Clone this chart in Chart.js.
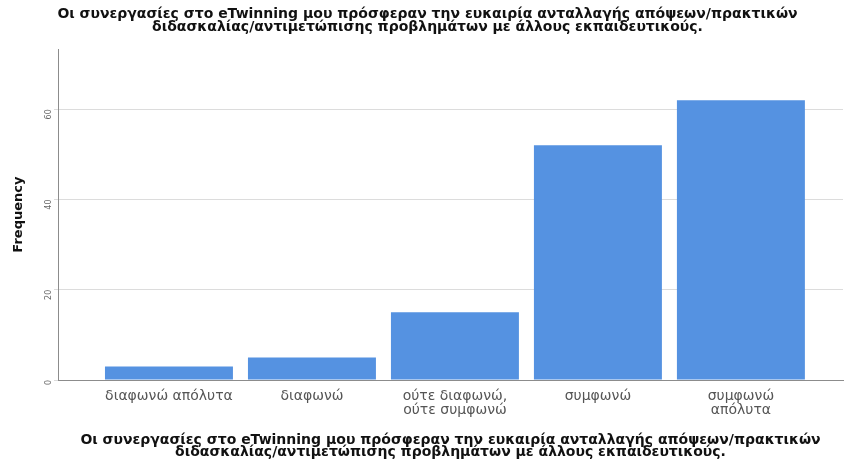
<!DOCTYPE html>
<html>
<head>
<meta charset="utf-8">
<script src="https://cdn.jsdelivr.net/npm/chart.js@4/dist/chart.umd.min.js"></script>
<style>
  html, body { margin: 0; padding: 0; background: #fff; }
  #wrap { width: 847px; height: 463px; }
</style>
</head>
<body>
<div id="wrap"><canvas id="c"></canvas></div>
<script>
const titleLines = [
  'Οι συνεργασίες στο eTwinning μου πρόσφεραν την ευκαιρία ανταλλαγής απόψεων/πρακτικών',
  'διδασκαλίας/αντιμετώπισης προβλημάτων με άλλους εκπαιδευτικούς.'
];
const categories = [
  'διαφωνώ απόλυτα',
  'διαφωνώ',
  ['ούτε διαφωνώ,', 'ούτε συμφωνώ'],
  'συμφωνώ',
  ['συμφωνώ', 'απόλυτα']
];
const frequencies = [3, 5, 15, 52, 62];
const yTicks = [0, 20, 40, 60];

const font = 'DejaVu Sans, sans-serif';

new Chart(document.getElementById('c'), {
  type: 'bar',
  data: {
    datasets: [{
      data: frequencies.map((v, i) => ({ x: i, y: v })),
      backgroundColor: '#5592e1',
      borderWidth: 0,
      barPercentage: 0.895,
      categoryPercentage: 1.0
    }]
  },
  options: {
    responsive: true,
    maintainAspectRatio: false,
    animation: false,
    layout: { padding: { left: 12, right: 4, top: 2, bottom: 4 } },
    plugins: {
      legend: { display: false },
      tooltip: { enabled: false },
      title: {
        display: true,
        text: titleLines,
        color: '#111',
        font: { family: font, size: 14, weight: 'bold', lineHeight: 0.9 },
        padding: { top: 6, bottom: 16 }
      }
    },
    scales: {
      x: {
        type: 'linear',
        offset: false,
        min: -0.776,
        max: 4.714,
        afterBuildTicks: scale => {
          scale.ticks = categories.map((c, i) => ({ value: i }));
        },
        afterFit: scale => { scale.height = 79; },
        grid: { display: false },
        border: { color: '#8c8c8c', width: 1 },
        ticks: {
          color: '#555',
          font: { family: font, size: 14, lineHeight: 0.95 },
          maxRotation: 0,
          autoSkip: false,
          padding: 2,
          callback: v => categories[v]
        },
        title: {
          display: true,
          text: titleLines,
          color: '#111',
          font: { family: font, size: 14, weight: 'bold', lineHeight: 0.9 },
          padding: { top: 10, bottom: 0 }
        }
      },
      y: {
        min: 0,
        max: 73.3,
        afterBuildTicks: scale => {
          scale.ticks = yTicks.map(v => ({ value: v }));
        },
        afterFit: scale => { scale.width = 46; },
        grid: { color: '#dcdcdc', drawTicks: true, tickLength: 4, tickColor: '#dcdcdc' },
        border: { color: '#8c8c8c', width: 1 },
        ticks: {
          color: '#666',
          font: { family: font, size: 8 },
          minRotation: 90,
          maxRotation: 90,
          padding: 5
        },
        title: {
          display: true,
          text: 'Frequency',
          color: '#111',
          font: { family: font, size: 13, weight: 'bold', lineHeight: 1 },
          padding: { top: 0, bottom: 0 }
        }
      }
    }
  }
});
</script>
</body>
</html>
